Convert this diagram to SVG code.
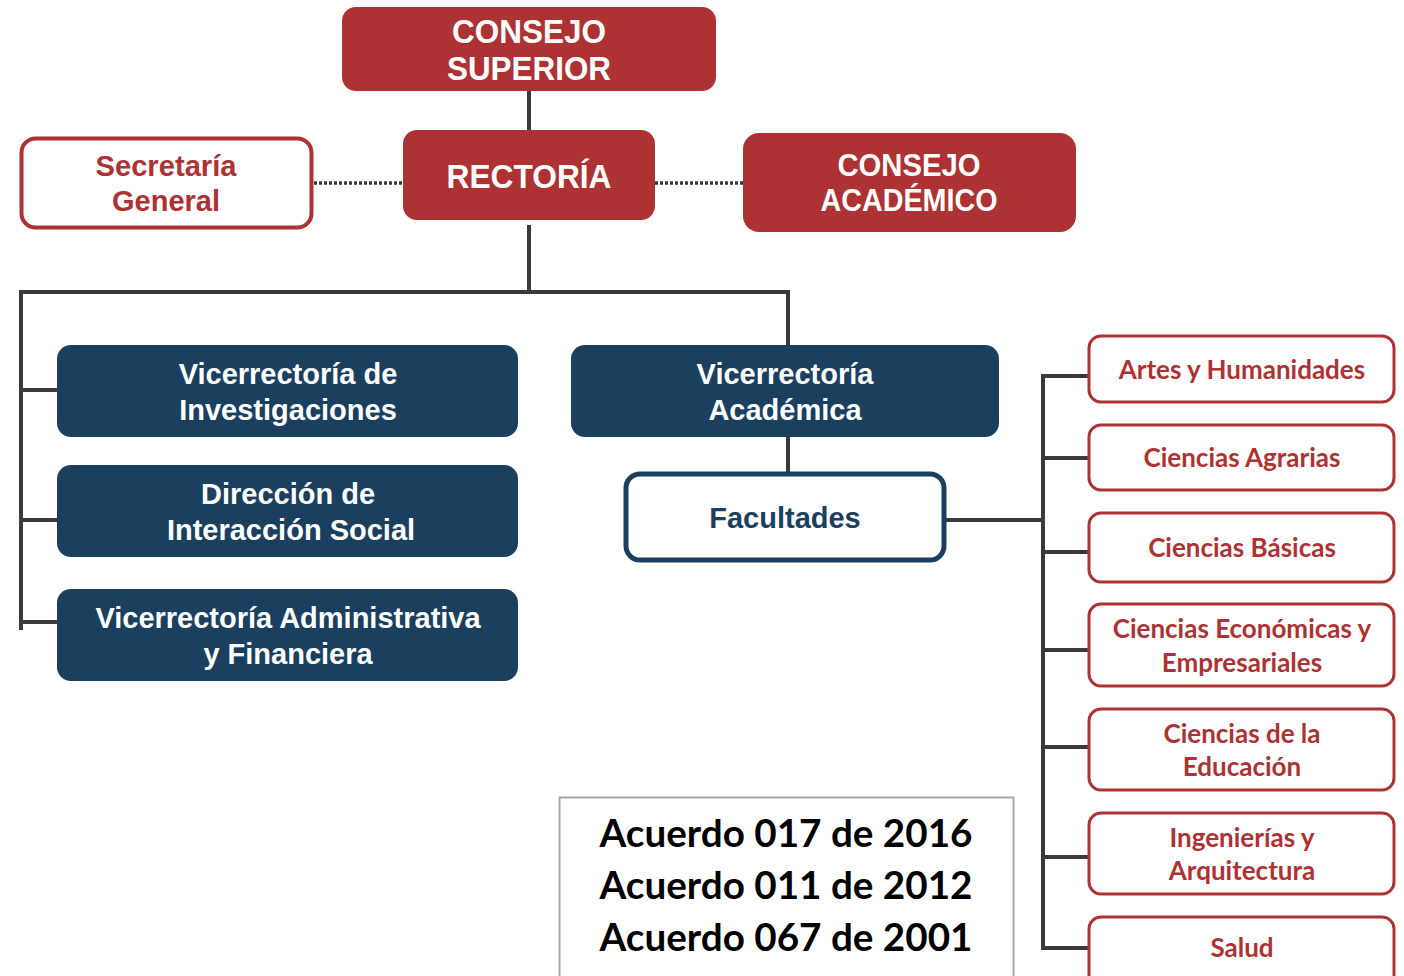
<svg xmlns="http://www.w3.org/2000/svg" width="1404" height="976" viewBox="0 0 1404 976">
<style>
.red{fill:#AD3233}
.navy{fill:#1B3F5F}
.redo{fill:#fff;stroke:#AD3233;stroke-width:3}
.t{font-family:"Liberation Sans",Arial,sans-serif;font-weight:bold;text-anchor:middle}
.w{fill:#fff}
.rt{fill:#AD3233}
.nt{fill:#1B3F5F}
.f{font-family:Lato,"Open Sans",sans-serif;font-weight:bold;text-anchor:middle;fill:#AD3233;font-size:26px}
.c{stroke:#3A3A3A;stroke-width:4;fill:none}
.d{stroke:#3A3A3A;stroke-width:3.5;fill:none;stroke-dasharray:3 2}
.a{font-family:Lato,"Open Sans",sans-serif;font-weight:bold;font-size:38.5px;text-anchor:middle;fill:#000}
</style>
<rect width="1404" height="976" fill="#fff"/>
<g id="connectors">
<line class="c" x1="529" y1="85" x2="529" y2="132"/>
<line class="c" x1="529" y1="225" x2="529" y2="290"/>
<polyline class="c" points="21,630 21,292 788,292 788,347"/>
<line class="c" x1="21" y1="390" x2="58" y2="390"/>
<line class="c" x1="21" y1="520" x2="58" y2="520"/>
<line class="c" x1="21" y1="622" x2="58" y2="622"/>
<line class="c" x1="788" y1="435" x2="788" y2="473"/>
<line class="c" x1="946" y1="520" x2="1043" y2="520"/>
<line class="c" x1="1043" y1="374" x2="1043" y2="950"/>
<line class="c" x1="1043" y1="376" x2="1089" y2="376"/>
<line class="c" x1="1043" y1="458" x2="1089" y2="458"/>
<line class="c" x1="1043" y1="552" x2="1089" y2="552"/>
<line class="c" x1="1043" y1="650" x2="1089" y2="650"/>
<line class="c" x1="1043" y1="747" x2="1089" y2="747"/>
<line class="c" x1="1043" y1="857" x2="1089" y2="857"/>
<line class="c" x1="1043" y1="948" x2="1089" y2="948"/>
<line class="d" x1="314" y1="183" x2="403" y2="183"/>
<line class="d" x1="655" y1="183" x2="743" y2="183"/>
</g>
<g id="consejo-superior">
<rect class="red" x="342" y="7" width="374" height="84" rx="14"/>
<text class="t w" x="529" y="43" font-size="34" textLength="154" lengthAdjust="spacingAndGlyphs">CONSEJO</text>
<text class="t w" x="529" y="80" font-size="34" textLength="164" lengthAdjust="spacingAndGlyphs">SUPERIOR</text>
</g>
<g id="rectoria">
<rect class="red" x="403" y="130" width="252" height="90" rx="14"/>
<text class="t w" x="529" y="188" font-size="33" textLength="165" lengthAdjust="spacingAndGlyphs">RECTORÍA</text>
</g>
<g id="secretaria-general">
<rect x="21.5" y="138.5" width="290" height="89" rx="14" fill="#fff" stroke="#AD3233" stroke-width="4"/>
<text class="t rt" x="166" y="176" font-size="29" textLength="141" lengthAdjust="spacingAndGlyphs">Secretaría</text>
<text class="t rt" x="166" y="211" font-size="29" textLength="108" lengthAdjust="spacingAndGlyphs">General</text>
</g>
<g id="consejo-academico">
<rect class="red" x="743" y="133" width="333" height="99" rx="16"/>
<text class="t w" x="909" y="176" font-size="31" textLength="143" lengthAdjust="spacingAndGlyphs">CONSEJO</text>
<text class="t w" x="909" y="211" font-size="31" textLength="177" lengthAdjust="spacingAndGlyphs">ACADÉMICO</text>
</g>
<g id="vicerrectoria-investigaciones">
<rect class="navy" x="57" y="345" width="461" height="92" rx="14"/>
<text class="t w" x="288" y="384" font-size="29">Vicerrectoría de</text>
<text class="t w" x="288" y="420" font-size="29">Investigaciones</text>
</g>
<g id="direccion-interaccion-social">
<rect class="navy" x="57" y="465" width="461" height="92" rx="14"/>
<text class="t w" x="288" y="504" font-size="29">Dirección de</text>
<text class="t w" x="291" y="540" font-size="29">Interacción Social</text>
</g>
<g id="vicerrectoria-administrativa">
<rect class="navy" x="57" y="589" width="461" height="92" rx="14"/>
<text class="t w" x="288" y="628" font-size="29">Vicerrectoría Administrativa</text>
<text class="t w" x="288" y="664" font-size="29">y Financiera</text>
</g>
<g id="vicerrectoria-academica">
<rect class="navy" x="571" y="345" width="428" height="92" rx="14"/>
<text class="t w" x="785" y="384" font-size="29">Vicerrectoría</text>
<text class="t w" x="785" y="420" font-size="29">Académica</text>
</g>
<g id="facultades">
<rect x="626" y="474" width="318" height="86" rx="14" fill="#fff" stroke="#1B3F5F" stroke-width="5"/>
<text class="t nt" x="785" y="528" font-size="29">Facultades</text>
</g>
<g id="artes">
<rect class="redo" x="1089" y="336" width="305" height="66" rx="12"/>
<text class="f" x="1242" y="379">Artes y Humanidades</text>
</g>
<g id="agrarias">
<rect class="redo" x="1089" y="425" width="305" height="65" rx="12"/>
<text class="f" x="1242" y="467">Ciencias Agrarias</text>
</g>
<g id="basicas">
<rect class="redo" x="1089" y="513" width="305" height="69" rx="12"/>
<text class="f" x="1242" y="557">Ciencias Básicas</text>
</g>
<g id="economicas">
<rect class="redo" x="1089" y="604" width="305" height="82" rx="12"/>
<text class="f" x="1242" y="638">Ciencias Económicas y</text>
<text class="f" x="1242" y="672">Empresariales</text>
</g>
<g id="educacion">
<rect class="redo" x="1089" y="709" width="305" height="81" rx="12"/>
<text class="f" x="1242" y="743">Ciencias de la</text>
<text class="f" x="1242" y="776">Educación</text>
</g>
<g id="ingenierias">
<rect class="redo" x="1089" y="813" width="305" height="81" rx="12"/>
<text class="f" x="1242" y="847">Ingenierías y</text>
<text class="f" x="1242" y="880">Arquitectura</text>
</g>
<g id="salud">
<rect class="redo" x="1089" y="917" width="305" height="70" rx="12"/>
<text class="f" x="1242" y="957">Salud</text>
</g>
<g id="acuerdos">
<rect x="559.5" y="797.5" width="454" height="190" fill="#fff" stroke="#A6A6A6" stroke-width="2"/>
<text class="a" x="786" y="847" textLength="373" lengthAdjust="spacingAndGlyphs">Acuerdo 017 de 2016</text>
<text class="a" x="786" y="899" textLength="373" lengthAdjust="spacingAndGlyphs">Acuerdo 011 de 2012</text>
<text class="a" x="786" y="951" textLength="373" lengthAdjust="spacingAndGlyphs">Acuerdo 067 de 2001</text>
</g>
</svg>
